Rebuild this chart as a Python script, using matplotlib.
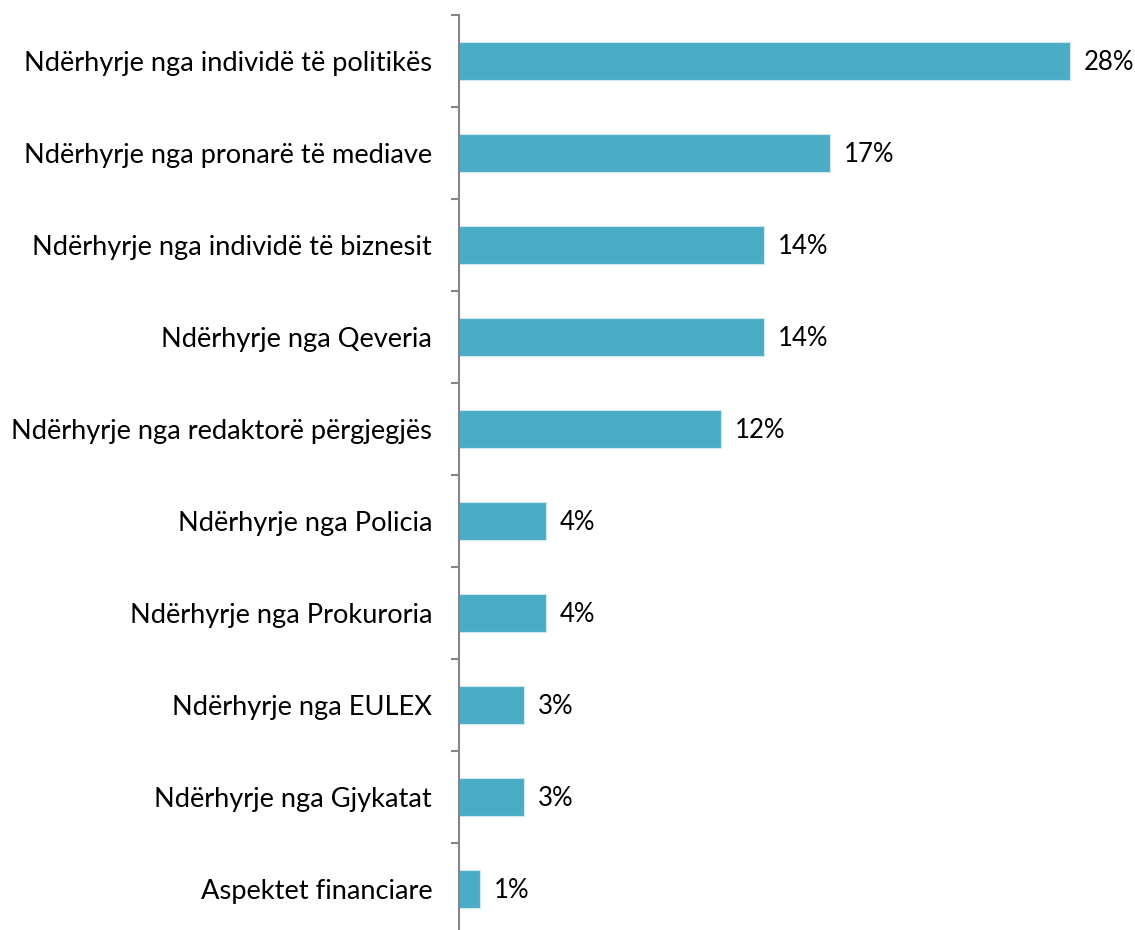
import matplotlib
matplotlib.use("Agg")
import matplotlib.pyplot as plt
import numpy as np

categories = [
    "Ndërhyrje nga individë të politikës",
    "Ndërhyrje nga pronarë të mediave",
    "Ndërhyrje nga individë të biznesit",
    "Ndërhyrje nga Qeveria",
    "Ndërhyrje nga redaktorë përgjegjës",
    "Ndërhyrje nga Policia",
    "Ndërhyrje nga Prokuroria",
    "Ndërhyrje nga EULEX",
    "Ndërhyrje nga Gjykatat",
    "Aspektet financiare",
]
values = [28, 17, 14, 14, 12, 4, 4, 3, 3, 1]
value_labels = ["28%", "17%", "14%", "14%", "12%", "4%", "4%", "3%", "3%", "1%"]

plt.rcParams['font.family'] = ['Lato', 'DejaVu Sans']

W, H = 1135, 930
fig = plt.figure(figsize=(W / 100, H / 100), dpi=100)
ax_left = 458.6 / W
ax_right = (458.6 + 30 * 21.84) / W
ax_top = 1 - 15 / H
ax_bot = -5 / H
ax = fig.add_axes([ax_left, ax_bot, ax_right - ax_left, ax_top - ax_bot])

y = np.arange(len(categories))
bar_color = "#4BACC6"
ax.barh(y, values, height=0.41, color=bar_color, edgecolor="#CFE8EF", linewidth=0.8)

ax.set_xlim(0, 30)
ax.set_ylim(len(categories) - 0.5, -0.5)

for yi, v, lab in zip(y, values, value_labels):
    ax.annotate(lab, (v, yi), xytext=(10, -1), textcoords="offset points",
                va="center", ha="left", fontsize=18.5, color="#000000")

for s in ["top", "right", "bottom"]:
    ax.spines[s].set_visible(False)
ax.spines["left"].set_color("#868686")
ax.spines["left"].set_linewidth(1.5)
ax.set_xticks([])

ax.set_yticks(np.arange(-0.5, len(categories) + 0.5, 1.0))
ax.set_yticklabels([])
ax.tick_params(axis="y", which="major", length=6, width=1.5, color="#868686")
ax.set_yticks(y, minor=True)
ax.set_yticklabels(categories, minor=True, fontsize=19.6)
ax.tick_params(axis="y", which="minor", length=0, pad=19)

fig.savefig("out.png", dpi=100)
